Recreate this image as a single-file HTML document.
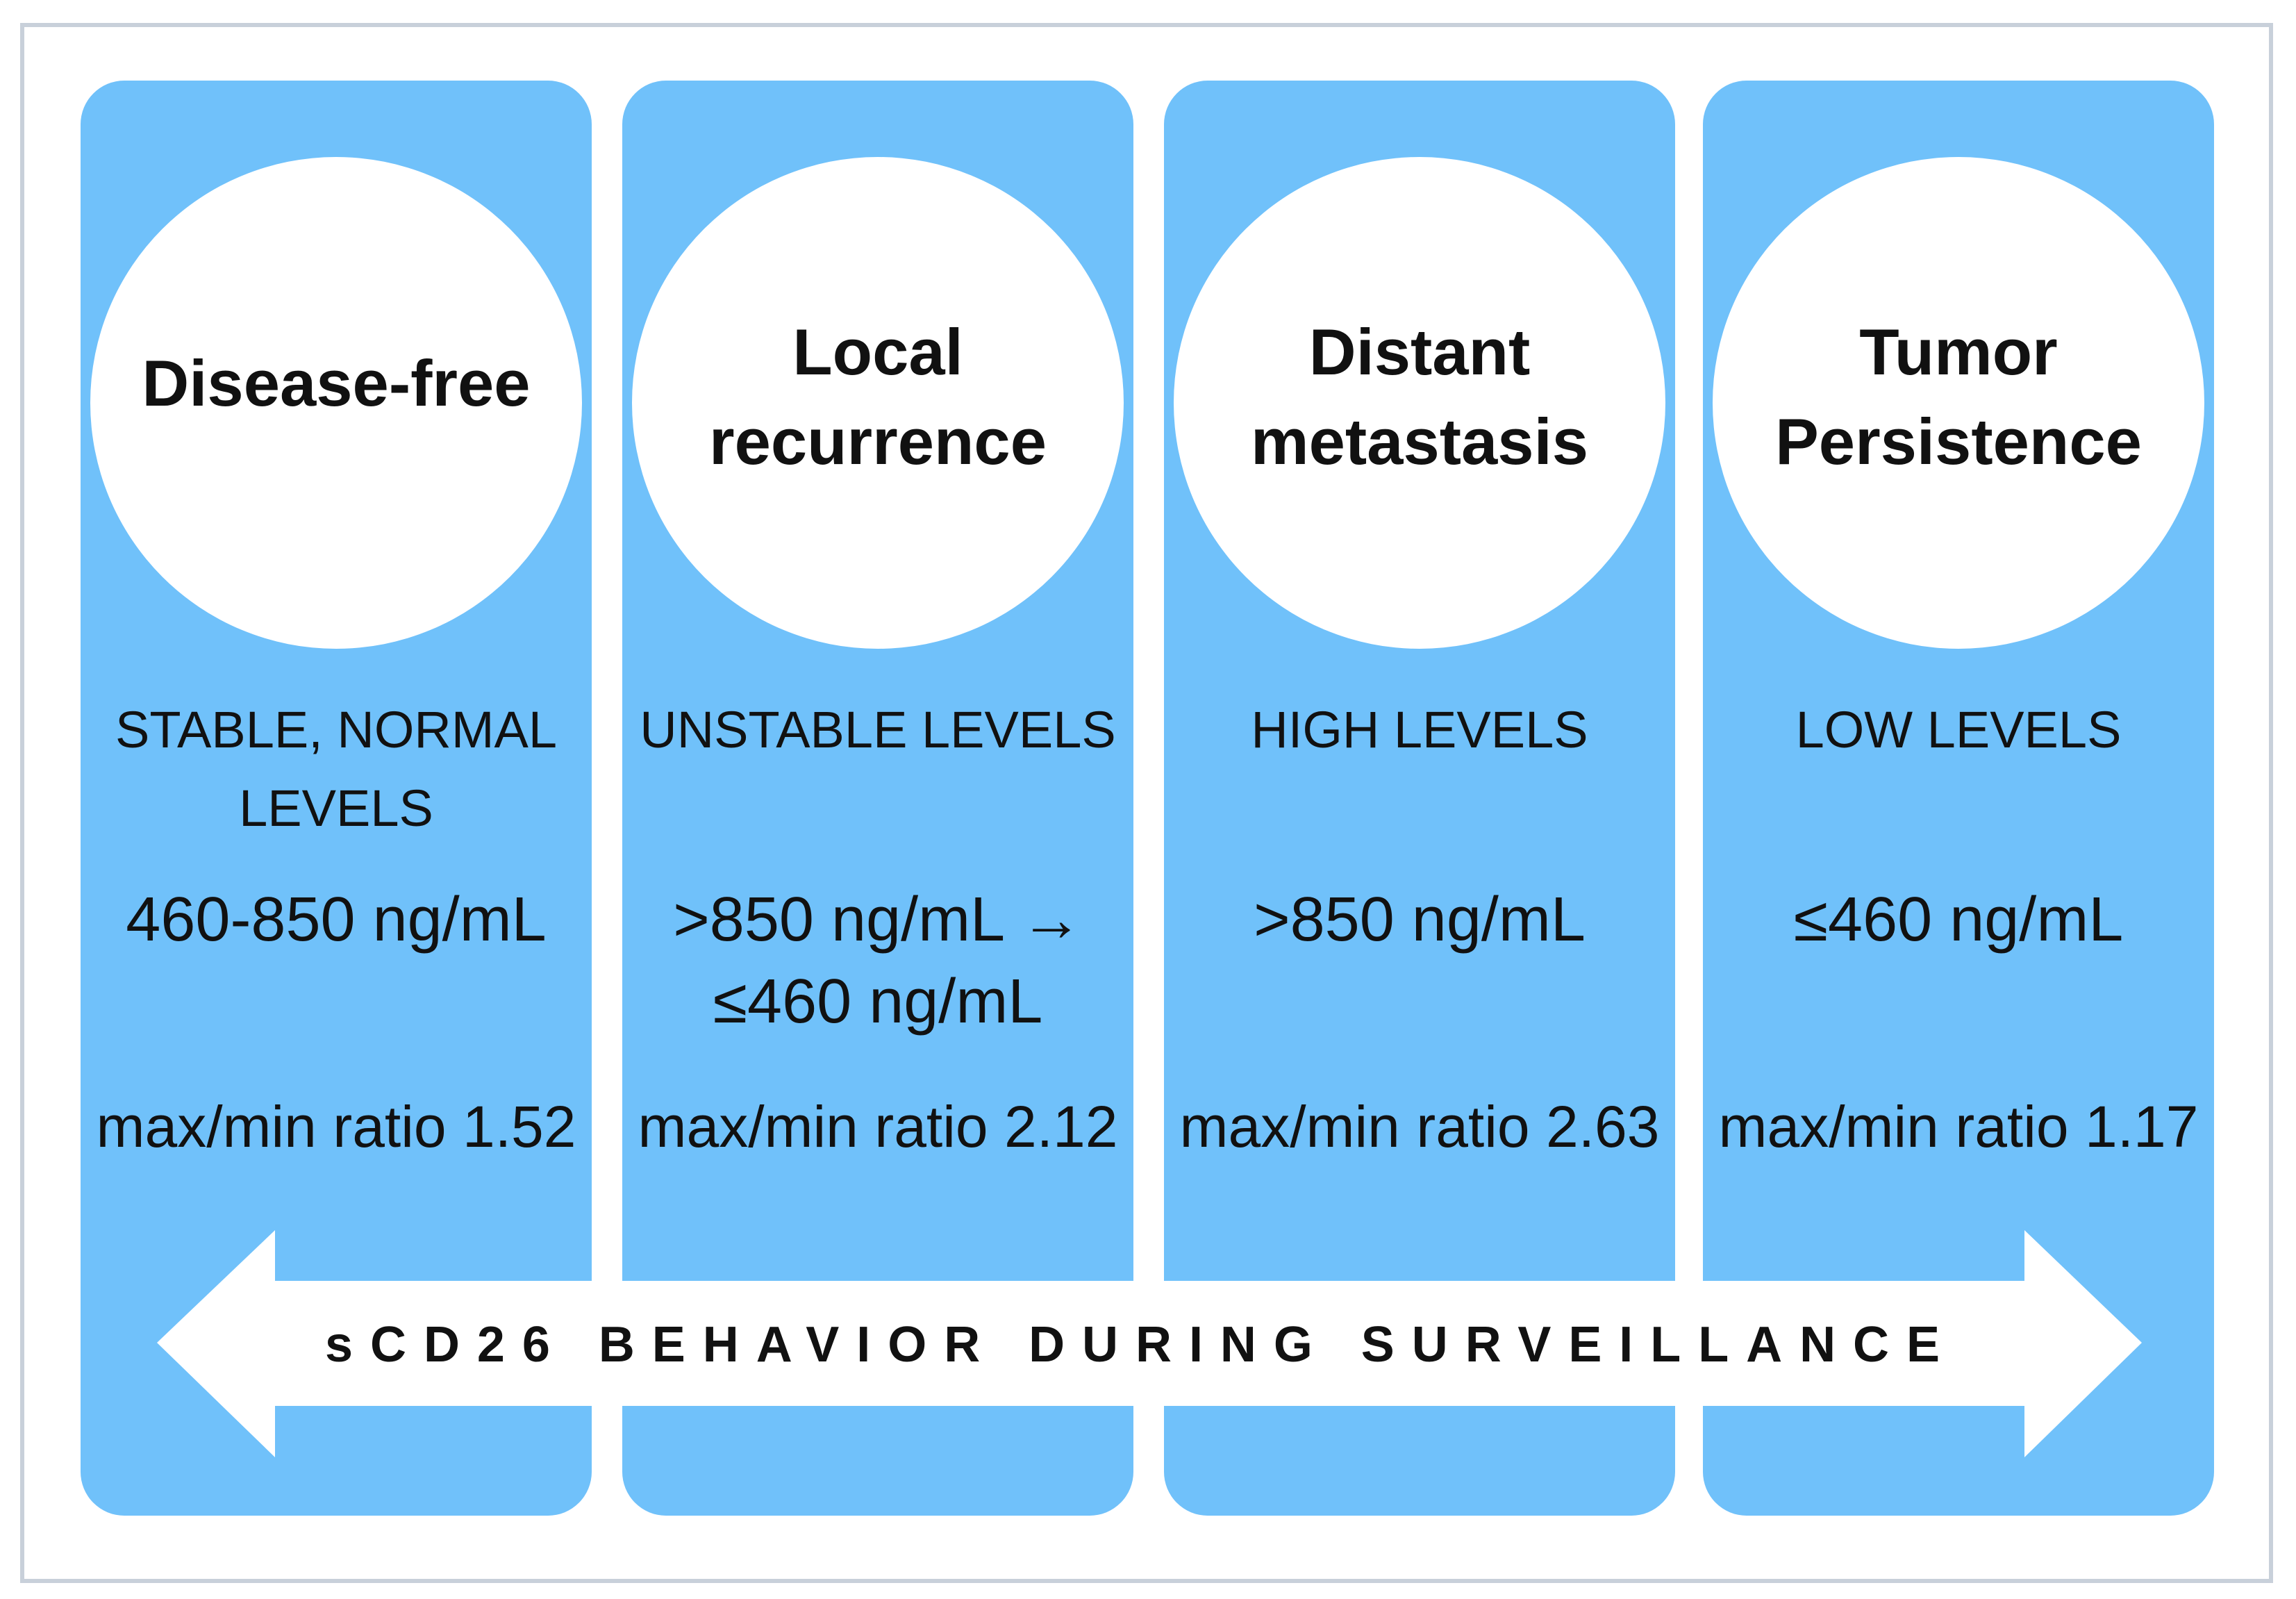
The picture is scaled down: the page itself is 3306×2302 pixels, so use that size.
<!DOCTYPE html>
<html><head><meta charset="utf-8"><style>
html,body{margin:0;padding:0;background:#fff;}
svg{display:block;}
text{font-family:"Liberation Sans",sans-serif;fill:#111;}
</style></head><body>
<svg width="3306" height="2302" viewBox="0 0 3306 2302">
<rect x="32" y="36" width="3238" height="2240" fill="#fff" stroke="#c8d0da" stroke-width="6"/>
<g id="cols"></g>
<g>
<polygon points="226,1933 396,1771 396,1844 2915,1844 2915,1771 3084,1933 2915,2098 2915,2024 396,2024 396,2098" fill="#fff"/>
<text x="468" y="1960" font-size="72" font-weight="bold" textLength="2325" lengthAdjust="spacing">sCD26  BEHAVIOR  DURING  SURVEILLANCE</text>
</g>
</svg>
<script>
const titles=[["Disease-free"],["Local","recurrence"],["Distant","metastasis"],["Tumor","Persistence"]];
const statuses=[["STABLE, NORMAL","LEVELS"],["UNSTABLE LEVELS"],["HIGH LEVELS"],["LOW LEVELS"]];
const ranges=[["460-850 ng/mL"],[">850 ng/mL \u2192","\u2264460 ng/mL"],[">850 ng/mL"],["\u2264460 ng/mL"]];
const ratios=["1.52","2.12","2.63","1.17"];
const colX=[116,896,1676,2452];
const NS="http://www.w3.org/2000/svg";
const g=document.getElementById('cols');
function mk(tag,attrs,parent){const e=document.createElementNS(NS,tag);for(const k in attrs)e.setAttribute(k,attrs[k]);parent.appendChild(e);return e;}
function txt(parent,x,y,s,size,weight,name){const t=mk('text',{x:x,y:y,'font-size':size,'font-weight':weight,'text-anchor':'middle'},parent);t.textContent=s;


return t;}
colX.forEach((x,i)=>{
 const grp=mk('g',{},g);
 
 
 const r=mk('rect',{x:x,y:116,width:736,height:2066,rx:63,fill:'#70c1fa'},grp);
 
 
 const cx=x+368;
 const c=mk('circle',{cx:cx,cy:580,r:354,fill:'#fff'},grp);
 
 
 const tl=titles[i];
 const ty=tl.length===1?[584]:[539,668];
 tl.forEach((s,j)=>txt(grp,cx,ty[j],s,94,'bold','stage-title'));
 statuses[i].forEach((s,j)=>txt(grp,cx,1076+j*113,s,74,'normal','level-status'));
 ranges[i].forEach((s,j)=>txt(grp,cx,1354+j*118,s,90,'normal','level-range'));
 txt(grp,cx,1651,'max/min ratio '+ratios[i],84,'normal','max-min-ratio');
});
</script>
</body></html>
